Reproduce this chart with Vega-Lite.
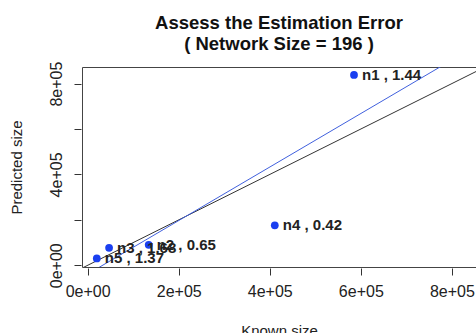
{
  "$schema": "https://vega.github.io/schema/vega-lite/v6.json",
  "autosize": "none",
  "width": 394,
  "height": 200,
  "padding": {"left": 82, "top": 67, "right": 0, "bottom": 66},
  "background": "white",
  "config": {
    "font": "Liberation Sans",
    "view": {"stroke": "#444", "strokeWidth": 1},
    "axis": {"grid": false, "domain": false, "tickColor": "#333", "tickSize": 7, "labelColor": "#222", "labelFontSize": 16, "titleFontSize": 15, "titleFontWeight": "normal", "titleColor": "#222", "labelFont": "Liberation Sans", "titleFont": "Liberation Sans"}
  },
  "title": {
    "text": ["Assess the Estimation Error", "( Network Size = 196 )"],
    "fontSize": 18.5,
    "fontWeight": "bold",
    "font": "Liberation Sans",
    "color": "#111",
    "anchor": "middle",
    "lineHeight": 21,
    "offset": 8
  },
  "datasets": {
    "pts": [
      {"name": "n1", "known": 585000, "predicted": 838000, "label": "n1 , 1.44"},
      {"name": "n2", "known": 134000, "predicted": 90000, "label": "n2 , 0.65"},
      {"name": "n3", "known": 47000, "predicted": 77000, "label": "n3 , 1.68"},
      {"name": "n4", "known": 411000, "predicted": 176000, "label": "n4 , 0.42"},
      {"name": "n5", "known": 20000, "predicted": 30000, "label": "n5 , 1.37"}
    ],
    "lines": [
      {"line": "identity", "x": -20000, "y": -20000},
      {"line": "identity", "x": 900000, "y": 900000},
      {"line": "fit", "x": 0, "y": -38600},
      {"line": "fit", "x": 900000, "y": 1021600}
    ]
  },
  "layer": [
    {
      "data": {"name": "lines"},
      "mark": {"type": "line", "clip": true, "strokeWidth": 1},
      "encoding": {
        "x": {"field": "x", "type": "quantitative", "scale": {"domain": [-12500, 853000], "nice": false, "zero": false},
          "axis": {"values": [0, 200000, 400000, 600000, 800000], "labelExpr": "datum.value == 0 ? '0e+00' : (datum.value/100000) + 'e+05'", "title": "Known size", "offset": 1, "labelPadding": 8, "titlePadding": 24}},
        "y": {"field": "y", "type": "quantitative", "scale": {"domain": [-7500, 873000], "nice": false, "zero": false},
          "axis": {"values": [0, 200000, 400000, 600000, 800000], "labelExpr": "datum.value == 0 ? '0e+00' : (datum.value % 400000 == 0 ? (datum.value/100000) + 'e+05' : '')", "title": "Predicted size", "offset": 1, "labelAngle": -90, "labelAlign": "center", "labelBaseline": "bottom", "labelPadding": 10, "titlePadding": 24}},
        "color": {"field": "line", "type": "nominal", "scale": {"domain": ["identity", "fit"], "range": ["#333333", "#4060dd"]}, "legend": null},
        "detail": {"field": "line"}
      }
    },
    {
      "data": {"name": "pts"},
      "mark": {"type": "point", "filled": true, "opacity": 1, "size": 60, "color": "#1a3ff0"},
      "encoding": {
        "x": {"field": "known", "type": "quantitative"},
        "y": {"field": "predicted", "type": "quantitative"}
      }
    },
    {
      "data": {"name": "pts"},
      "mark": {"type": "text", "align": "left", "baseline": "middle", "dx": 8, "fontSize": 15, "fontWeight": "bold", "color": "#222"},
      "encoding": {
        "x": {"field": "known", "type": "quantitative"},
        "y": {"field": "predicted", "type": "quantitative"},
        "text": {"field": "label"}
      }
    }
  ]
}
